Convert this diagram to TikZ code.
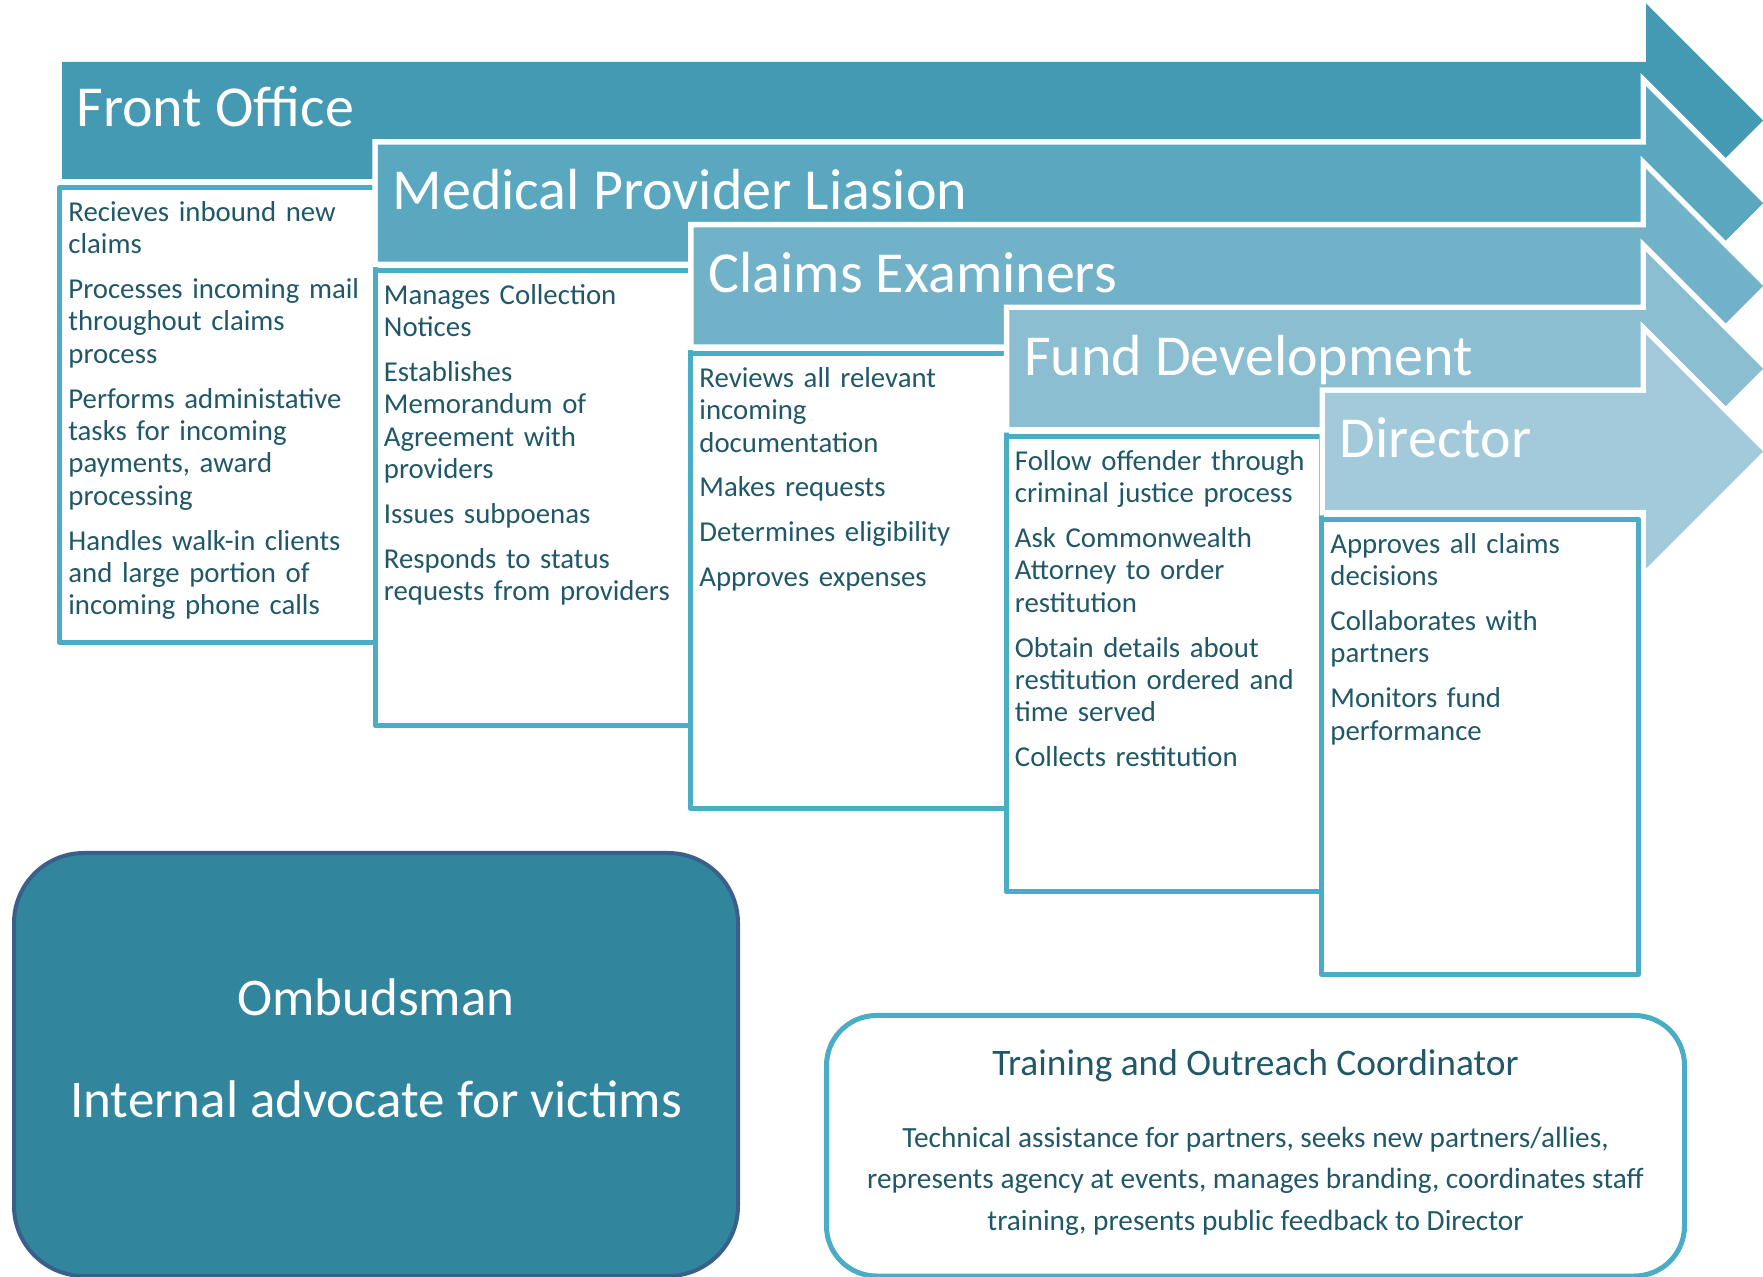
\documentclass[tikz,border=0pt]{standalone}
\usepackage{fontspec}
\setmainfont{Carlito}
\definecolor{arA}{HTML}{449AB2}
\definecolor{arB}{HTML}{5AA8C0}
\definecolor{arC}{HTML}{72B2C8}
\definecolor{arD}{HTML}{8ABED0}
\definecolor{arE}{HTML}{A3CADA}
\definecolor{boxline}{HTML}{4BACC6}
\definecolor{txt}{HTML}{205867}
\definecolor{ombfill}{HTML}{31859C}
\definecolor{ombline}{HTML}{3A5F8B}
\begin{document}
\begin{tikzpicture}[x=0.5pt,y=-0.5pt,
  stagearrow/.style={preaction={draw=white,line width=5.5pt,line join=miter}},
  stagetitle/.style={anchor=base west,inner sep=0pt,text=white,font=\fontsize{29pt}{34pt}\selectfont},
  dutybox/.style={draw=boxline,fill=white,line width=2.5pt,line join=round,rectangle,inner sep=0pt,outer sep=0pt,minimum width=157.75pt,minimum height=227.5pt},
  duties/.style={anchor=north west,inner sep=0pt,text=txt,text width=165pt,align=left,font=\fontsize{14.4pt}{16.2pt}\selectfont},
  ombbox/.style={draw=ombline,fill=ombfill,line width=2pt,rectangle,rounded corners=35pt,inner sep=0pt,outer sep=0pt,minimum width=362pt,minimum height=211.5pt},
  ombtext/.style={anchor=base,inner sep=0pt,text=white,font=\fontsize{26.5pt}{32pt}\selectfont},
  trbox/.style={draw=boxline,fill=white,line width=2.5pt,rectangle,rounded corners=25pt,inner sep=0pt,outer sep=0pt,minimum width=429pt,minimum height=130.25pt},
  trtitle/.style={anchor=base,inner sep=0pt,text=txt,font=\fontsize{18.7pt}{22pt}\selectfont},
  trbody/.style={anchor=north,inner sep=0pt,text=txt,align=center,font=\fontsize{14.65pt}{20.75pt}\selectfont}
]
\useasboundingbox (0,0) rectangle (1763,1277);

% ---- Stage 1
\path[stagearrow,fill=arA] (62,62) -- (1646,62) -- (1646,3.5) -- (1763,120.5) -- (1646,237.5) -- (1646,179) -- (62,179) -- cycle;
\node[stagetitle] (t1) at (76,127) {Front Office};
\node[dutybox] (b1) at (217.25,415) {};
\node[duties] (d1) at (68,195) {\parindent=0pt\parskip=6.2pt\rule{0pt}{13pt}Recieves inbound new\\claims\par
Processes incoming mail\\throughout claims\\process\par
Performs administative\\tasks for incoming\\payments, award\\processing\par
Handles walk-in clients\\and large portion of\\incoming phone calls};

% ---- Stage 2
\path[stagearrow,fill=arB] (377.75,144.75) -- (1646,144.75) -- (1646,86.25) -- (1763,203.25) -- (1646,320.25) -- (1646,261.75) -- (377.75,261.75) -- cycle;
\node[stagetitle] (t2) at (392.25,209.75) {Medical Provider Liasion};
\node[dutybox] (b2) at (532.75,498) {};
\node[duties] (d2) at (383.5,278) {\parindent=0pt\parskip=6.2pt\rule{0pt}{13pt}Manages Collection\\Notices\par
Establishes\\Memorandum of\\Agreement with\\providers\par
Issues subpoenas\par
Responds to status\\requests from providers};

% ---- Stage 3
\path[stagearrow,fill=arC] (693.5,227.5) -- (1646,227.5) -- (1646,169) -- (1763,286) -- (1646,403) -- (1646,344.5) -- (693.5,344.5) -- cycle;
\node[stagetitle] (t3) at (708,292.5) {Claims Examiners};
\node[dutybox] (b3) at (848.25,581) {};
\node[duties] (d3) at (699,361) {\parindent=0pt\parskip=6.2pt\rule{0pt}{13pt}Reviews all relevant\\incoming\\documentation\par
Makes requests\par
Determines eligibility\par
Approves expenses};

% ---- Stage 4
\path[stagearrow,fill=arD] (1009.25,310.25) -- (1646,310.25) -- (1646,251.75) -- (1763,368.75) -- (1646,485.75) -- (1646,427.25) -- (1009.25,427.25) -- cycle;
\node[stagetitle] (t4) at (1023.75,375.25) {Fund Development};
\node[dutybox] (b4) at (1163.75,664) {};
\node[duties] (d4) at (1014.5,444) {\parindent=0pt\parskip=6.2pt\rule{0pt}{13pt}Follow offender through\\criminal justice process\par
Ask Commonwealth\\Attorney to order\\restitution\par
Obtain details about\\restitution ordered and\\time served\par
Collects restitution};

% ---- Stage 5
\path[stagearrow,fill=arE] (1325,393) -- (1646,393) -- (1646,334.5) -- (1763,451.5) -- (1646,568.5) -- (1646,510) -- (1325,510) -- cycle;
\node[stagetitle] (t5) at (1339.5,458) {Director};
\node[dutybox,minimum width=158.5pt] (b5) at (1480,747) {};
\node[duties] (d5) at (1330,527) {\parindent=0pt\parskip=6.2pt\rule{0pt}{13pt}Approves all claims\\decisions\par
Collaborates with\\partners\par
Monitors fund\\performance};

% ---- Ombudsman
\node[ombbox] (omb) at (376,1064.5) {};
\node[ombtext] (ombt) at (376,1015) {Ombudsman};
\node[ombtext] (ombs) at (376,1117) {Internal advocate for victims};

% ---- Training and Outreach
\node[trbox] (tr) at (1255.5,1145.75) {};
\node[trtitle] (trt) at (1255.5,1076) {Training and Outreach Coordinator};
\node[trbody] (trb) at (1255.5,1119) {\rule{0pt}{14pt}Technical assistance for partners, seeks new partners/allies,\\
represents agency at events, manages branding, coordinates staff\\
training, presents public feedback to Director};
\end{tikzpicture}
\end{document}
